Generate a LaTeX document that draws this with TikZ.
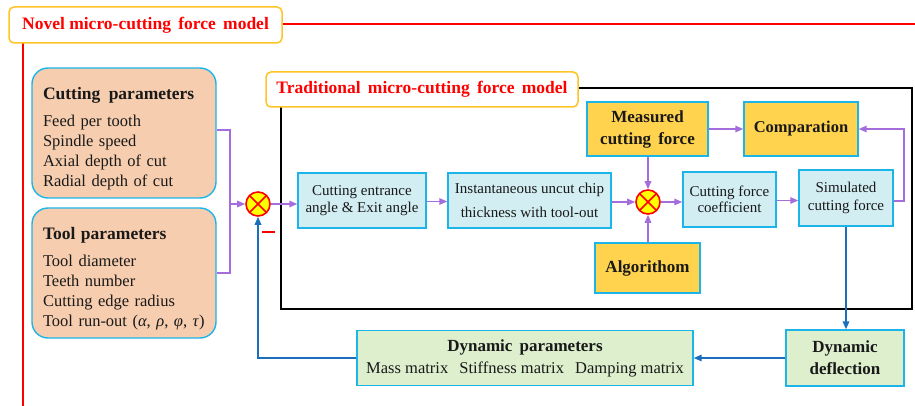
\documentclass[tikz,border=0pt]{standalone}
\usepackage{fontspec}
\setmainfont{Liberation Serif}
\usetikzlibrary{arrows.meta,calc}
\definecolor{cyanB}{HTML}{1CB5EA}
\definecolor{lcyan}{HTML}{D2EEF3}
\definecolor{yel}{HTML}{FFD34E}
\definecolor{grn}{HTML}{DDEFCD}
\definecolor{peach}{HTML}{F6CDAE}
\definecolor{labOr}{HTML}{FFC425}
\definecolor{purp}{HTML}{A56CDB}
\definecolor{blueA}{HTML}{1B6EBA}
\definecolor{redA}{HTML}{FF0000}
\definecolor{sumY}{HTML}{FFFF00}
\begin{document}
\begin{tikzpicture}[x=1pt,y=-1pt,
  box/.style={draw=cyanB, line width=1.4pt, align=center, inner sep=0pt, text=black!90},
  rtext/.style={font=\fontsize{15}{17}\selectfont},
  btext/.style={font=\bfseries\fontsize{17}{22}\selectfont},
  cbox/.style={box, fill=lcyan, rtext},
  ybox/.style={box, fill=yel, btext},
  gbox/.style={box, fill=grn},
  parbox/.style={box, fill=peach, rounded corners=16pt, align=left, text width=162pt, inner xsep=11pt,
     minimum width=184pt, minimum height=130pt, font=\fontsize{16.5}{20}\selectfont},
  lab/.style={draw=labOr, fill=white, line width=1.5pt, rounded corners=5pt, text=redA,
     font=\bfseries\fontsize{17.5}{20}\selectfont, inner sep=0pt},
  parr/.style={draw=purp, line width=1.5pt, -{Triangle[length=8pt,width=6.5pt]}},
  pline/.style={draw=purp, line width=1.5pt},
  barr/.style={draw=blueA, line width=1.6pt, -{Triangle[length=8pt,width=6.5pt]}},
  sumc/.style={circle, minimum size=24pt, inner sep=0pt, fill=sumY, draw=redA, line width=1.6pt,
     path picture={\draw[redA, line width=1.6pt]
        (path picture bounding box.north west) -- (path picture bounding box.south east)
        (path picture bounding box.north east) -- (path picture bounding box.south west);}}
]
\useasboundingbox (0,0) rectangle (915,406);

% outer red frame
\coordinate (rtop) at (915,24);
\coordinate (rcorner) at (23,24);
\coordinate (rbot) at (23,406);
\draw[redA, line width=2pt] (rtop) -- (rcorner) -- (rbot);
\node[lab, minimum width=273pt, minimum height=36pt] (novel) at (145.5,25) {Novel micro-cutting\, force\, model};

% traditional black frame
\coordinate (t1) at (281,88);
\coordinate (t2) at (912,309);
\draw[black, line width=2pt] (t1) rectangle (t2);
\node[lab, minimum width=312pt, minimum height=35pt] (trad) at (422,89.5) {Traditional\, micro-cutting\, force\, model};

% parameter boxes
\node[parbox] (cutp) at (124,133) {\rule{0pt}{23pt}{\bfseries\fontsize{17.5}{20}\selectfont Cutting\, parameters}\\[7pt]
Feed per tooth\\ Spindle speed\\ Axial depth of cut\\ Radial depth of cut};
\node[parbox] (toolp) at (124,273) {\rule{0pt}{23pt}{\bfseries\fontsize{17.5}{20}\selectfont Tool parameters}\\[7pt]
Tool diameter\\ Teeth number\\ Cutting edge radius\\ Tool run-out (\textit{α}, \textit{ρ}, \textit{φ}, \textit{τ})};

% sums
\node[sumc] (sum1) at (258,204) {};
\node[sumc] (sum2) at (648,202) {};

% process boxes
\node[cbox, minimum width=128pt, minimum height=55pt] (entr) at (362,200.5) {Cutting entrance\\angle \& Exit angle};
\node[cbox, minimum width=163pt, minimum height=55pt, font=\fontsize{15}{24}\selectfont] (chip) at (529.5,200.5) {Instantaneous uncut chip\\thickness with tool-out};
\node[cbox, minimum width=93pt, minimum height=55pt, font=\fontsize{15}{16.5}\selectfont] (cfc) at (729.5,199.5) {Cutting force\\coefficient};
\node[cbox, minimum width=94pt, minimum height=56pt, font=\fontsize{15}{18}\selectfont] (sim) at (846,198) {Simulated\\cutting force};
\node[ybox, minimum width=121pt, minimum height=54pt] (meas) at (647.5,129) {Measured\\cutting\, force};
\node[ybox, minimum width=114pt, minimum height=54pt, font=\bfseries\fontsize{16.5}{20}\selectfont] (comp) at (801,129) {Comparation};
\node[ybox, minimum width=105pt, minimum height=50pt] (alg) at (647.5,268) {Algorithom};

% dynamic boxes
\node[gbox, minimum width=336pt, minimum height=55pt, font=\fontsize{16.5}{22}\selectfont] (dpar) at (525,358)
  {{\bfseries\fontsize{17}{22}\selectfont Dynamic\, parameters}\\Mass matrix\hspace{7pt} Stiffness matrix\hspace{7pt} Damping matrix};
\node[gbox, minimum width=118pt, minimum height=56pt, btext] (dyn) at (845,358) {Dynamic\\deflection};

% purple bracket and arrows
\coordinate (br) at (230,204);
\draw[pline] ([yshift=3pt]cutp.east) -- ([yshift=3pt]cutp.east -| br) -- (toolp.east -| br) -- (toolp.east);
\draw[parr] (br) -- (sum1.west);
\draw[parr] (sum1.east) -- (sum1.east -| entr.west);
\draw[parr] ([yshift=-1pt]entr.east) -- ([yshift=-1pt]chip.west);
\draw[parr] (sum2.west -| chip.east) -- (sum2.west);
\draw[parr] (sum2.east) -- (sum2.east -| cfc.west);
\draw[parr] ([yshift=-1pt]cfc.east) -- ([yshift=-1pt]cfc.east -| sim.west);
\draw[parr] (meas.south -| sum2) -- (sum2.north);
\draw[parr] (alg.north -| sum2) -- (sum2.south);
\draw[parr] (meas.east) -- (comp.west);
\coordinate (sr) at (904,201);
\draw[parr] (sr -| sim.east) -- (sr) |- (comp.east);

% blue arrows
\draw[barr] (sim.south) -- (sim.south |- dyn.north);
\draw[barr] (dyn.west) -- (dpar.east);
\draw[barr] (dpar.west) -| (sum1.south);

% minus sign
\coordinate (m1) at (262,232);
\coordinate (m2) at (275,232);
\draw[redA, line width=2.2pt] (m1) -- (m2);
\end{tikzpicture}
\end{document}
